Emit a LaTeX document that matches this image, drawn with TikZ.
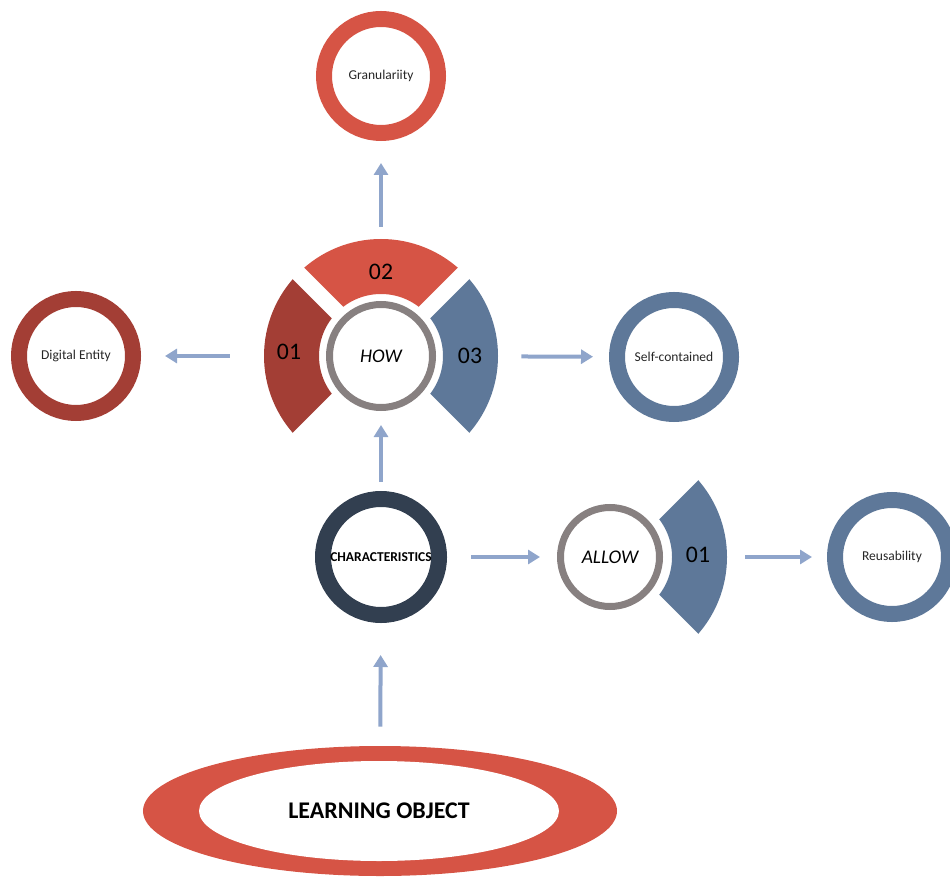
\documentclass[tikz,border=0pt]{standalone}
\usepackage{fontspec}
\setmainfont{Carlito}
\usetikzlibrary{arrows.meta}
\usetikzlibrary{calc}
\usetikzlibrary{shapes.geometric}
\definecolor{loRed}{HTML}{D65445}
\definecolor{darkRed}{HTML}{A33E35}
\definecolor{slateBlue}{HTML}{5E7899}
\definecolor{navy}{HTML}{323F50}
\definecolor{ringGray}{HTML}{878080}
\definecolor{arrowBlue}{HTML}{8FA5CB}
\newcommand{\blockarc}[4]{% colour, centre, start, end
  \fill [#1] ($(#2)+(#3:117)$) arc [start angle=#3, end angle=#4, radius=117]
    -- ($(#2)+(#4:62)$) arc [start angle=#4, end angle=#3, radius=62] -- cycle;}

\begin{document}
\begin{tikzpicture}
  [
    x=0.2mm, y=0.2mm,
    ring/.style={
      circle,
      draw=#1,
      line width=3.2mm,
      minimum size=22.8mm,
      inner sep=0pt,
      text=black!85,
      font=\fontsize{7.7}{9}\selectfont
    },
    core/.style={
      circle,
      draw=ringGray,
      line width=1.4mm,
      minimum size=#1,
      inner sep=0pt,
      font=\fontsize{11}{13}\selectfont\itshape
    },
    digit/.style={
      inner sep=0pt,
      font=\fontsize{13.5}{16}\selectfont
    },
    hub/.style={
      circle,
      minimum size=46.8mm,
      inner sep=0pt
    },
    flow/.style={
      -{Triangle[width=2.8mm,length=2.4mm]},
      draw=arrowBlue,
      line width=0.8mm
    }
  ]
  \useasboundingbox (0,0) rectangle (950,877);
  % HOW
  \coordinate (hc) at (381,521);
  \blockarc{darkRed}{hc}{135}{225}
  \blockarc{loRed}{hc}{45}{135}
  \blockarc{slateBlue}{hc}{-45}{45}
  \draw [white, line width=3.2mm] ($(hc)+(45:125)$) -- ($(hc)+(225:125)$);
  \draw [white, line width=3.2mm] ($(hc)+(135:125)$) -- ($(hc)+(-45:125)$);
  \node (how) [core=20.6mm] at (hc) {HOW};
  \node (howhub) [hub] at (hc) {};
  \node (n01) [digit] at (289,525) {01};
  \node (n02) [digit] at (381,605) {02};
  \node (n03) [digit] at (470,521) {03};
  % ALLOW
  \coordinate (ac) at (610,320);
  \blockarc{slateBlue}{ac}{-45}{45}
  \draw [white, line width=3.2mm] ($(ac)+(45:125)$) -- (ac) -- ($(ac)+(-45:125)$);
  \node (allow) [core=19.8mm] at (ac) {ALLOW};
  \node (allowhub) [hub] at (ac) {};
  \node (a01) [digit] at (698,322) {01};
  % rings
  \node (gran) [ring=loRed] at (381,801) {Granulariity};
  \node (dent) [ring=darkRed] at (76,521) {Digital Entity};
  \node (self) [ring=slateBlue] at (674,520) {Self-contained};
  \node (reuse) [ring=slateBlue] at (892,320) {Reusability};
  \node (chars) [ring=navy, minimum size=23.2mm, text=black,
    font=\fontsize{7.7}{9}\selectfont\bfseries] at (381,320) {CHARACTERISTICS};
  % learning object
  \node (loring) [ellipse, fill=loRed, minimum width=94.8mm, minimum height=26mm,
    inner sep=0pt] at (380,66) {};
  \node (lo) [ellipse, fill=white, minimum width=72mm, minimum height=20mm,
    inner sep=0pt, font=\fontsize{13.6}{16}\selectfont\bfseries] at (379,66) {LEARNING OBJECT};
  % arrows
  \draw [flow, shorten <=2.4mm, shorten >=4.4mm] (howhub) -- (gran);
  \draw [flow, shorten <=6.8mm, shorten >=4.8mm] (howhub) -- (dent);
  \draw [flow, shorten <=4.6mm, shorten >=3.2mm] (howhub) -- (self);
  \draw [flow, shorten <=1.8mm, shorten >=2.8mm] (chars) -- (how);
  \draw [flow, shorten <=4.8mm, shorten >=3.4mm] (chars) -- (allow);
  \draw [flow, shorten <=3.6mm, shorten >=3mm] (allowhub) -- (reuse);
  \draw [flow, shorten <=3.8mm, shorten >=6.4mm] (loring) -- (chars);
\end{tikzpicture}
\end{document}
